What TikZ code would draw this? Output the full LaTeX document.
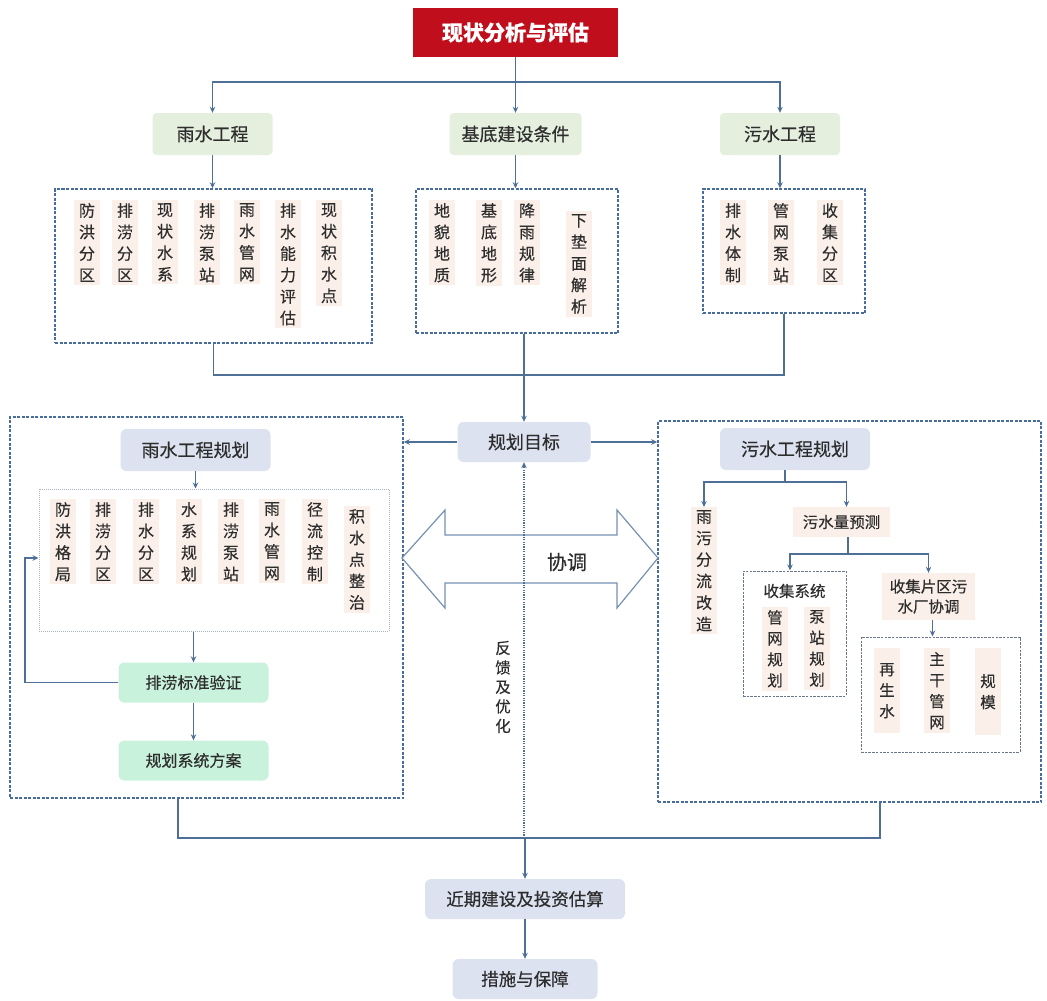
\documentclass[tikz,border=0pt]{standalone}
\usepackage{fontspec}
\setmainfont{Noto Sans CJK SC}[FakeBold=0.4]
\usetikzlibrary{arrows.meta}
\definecolor{topred}{RGB}{192,14,28}
\definecolor{gbox}{RGB}{228,239,222}
\definecolor{peach}{RGB}{251,240,233}
\definecolor{bbox}{RGB}{220,226,240}
\definecolor{mint}{RGB}{200,242,220}
\definecolor{conn}{RGB}{78,112,150}
\definecolor{dashc}{RGB}{72,108,158}
\definecolor{txt}{RGB}{45,45,45}
\definecolor{lightdot}{RGB}{168,180,198}
\definecolor{greydash}{RGB}{105,118,140}
\definecolor{outl}{RGB}{118,145,178}
\begin{document}
\begin{tikzpicture}[x=1pt,y=-1pt,
  ln/.style={draw=conn, line width=1.6pt},
  arr/.style={ln, -{Stealth[length=6pt,width=5.5pt]}},
  box/.style={rounded corners=4pt, text=txt, inner sep=0pt, align=center},
  gbx/.style={box, fill=gbox, font=\fontsize{18}{20}\selectfont},
  bbx/.style={box, fill=bbox, rounded corners=6pt, font=\fontsize{18}{20}\selectfont},
  mbx/.style={box, fill=mint, rounded corners=6pt, font=\fontsize{16}{20}\selectfont},
  pbx/.style={box, rounded corners=0pt, fill=peach, font=\fontsize{15.5}{20}\selectfont},
  vt/.style={fill=peach, text=txt, align=center, anchor=north,
    font=\fontsize{16}{21.5}\selectfont, inner xsep=5pt, inner ysep=3pt},
  vts/.style={vt, font=\fontsize{15.5}{21}\selectfont},
  dbox/.style={draw=dashc, line width=1.5pt, dash pattern=on 3pt off 1.5pt, inner sep=0pt},
  ibox/.style={draw=lightdot, line width=1pt, dash pattern=on 1pt off 1pt, inner sep=0pt},
  gdbox/.style={draw=greydash, line width=1pt, dash pattern=on 2.5pt off 1.2pt, inner sep=0pt}
]
\useasboundingbox (0,0) rectangle (1047,1001);

% ---- current state analysis ----
\node[box, rounded corners=0pt, fill=topred, text=white, minimum width=205pt, minimum height=49pt,
  font=\fontsize{21}{24}\selectfont\bfseries] (top) at (515.5,32.5) {现状分析与评估};

\node[gbx, minimum width=120pt, minimum height=42pt] (rain) at (212.5,134) {雨水工程};
\node[gbx, minimum width=132pt, minimum height=42pt] (base) at (515.5,134) {基底建设条件};
\node[gbx, minimum width=120pt, minimum height=42pt] (sew)  at (780,134)   {污水工程};

\coordinate (j1) at (515.5,82);
\draw[ln] (top.south) -- (j1);
\draw[arr] (j1) -| (rain.north);
\draw[arr] (j1) -- (base.north);
\draw[arr] (j1) -| (sew.north);

\node[dbox, minimum width=317pt, minimum height=154pt] (rainbox) at (213.5,266) {};
\node[dbox, minimum width=202pt, minimum height=144pt] (basebox) at (517,261) {};
\node[dbox, minimum width=162pt, minimum height=124pt] (sewbox)  at (784,251) {};

\draw[arr] (rain.south) -- (rain.south |- rainbox.north);
\draw[arr] (base.south) -- (base.south |- basebox.north);
\draw[arr] (sew.south)  -- (sew.south |- sewbox.north);

% rainwater items
\node[vt] (a1) at (87,200)  {防\\洪\\分\\区};
\node[vt] (a2) at (125,200) {排\\涝\\分\\区};
\node[vt] (a3) at (165,200) {现\\状\\水\\系};
\node[vt] (a4) at (207,200) {排\\涝\\泵\\站};
\node[vt] (a5) at (247,200) {雨\\水\\管\\网};
\node[vt] (a6) at (288,200) {排\\水\\能\\力\\评\\估};
\node[vt] (a7) at (329,200) {现\\状\\积\\水\\点};
% base condition items
\node[vt] (b1) at (442,200) {地\\貌\\地\\质};
\node[vt] (b2) at (489,200) {基\\底\\地\\形};
\node[vt] (b3) at (527,200) {降\\雨\\规\\律};
\node[vt] (b4) at (579,211) {下\\垫\\面\\解\\析};
% sewage items
\node[vt] (c1) at (733,200) {排\\水\\体\\制};
\node[vt] (c2) at (781,200) {管\\网\\泵\\站};
\node[vt] (c3) at (830,200) {收\\集\\分\\区};

% ---- planning goal ----
\node[bbx, minimum width=133pt, minimum height=40pt] (goal) at (524,442) {规划目标};
\draw[ln] (rainbox.south) -- ++(0,31) -| (sewbox.south);
\draw[arr] (goal.north |- basebox.south) -- (goal.north);

\node[dbox, minimum width=393pt, minimum height=381pt] (rplan) at (206.5,607.5) {};
\node[dbox, minimum width=383pt, minimum height=381pt] (splan) at (849.5,611.5) {};
\draw[arr] (goal.west) -- (goal.west -| rplan.east);
\draw[arr] (goal.east) -- (goal.east -| splan.west);

% ---- rainwater planning ----
\node[bbx, minimum width=150pt, minimum height=42pt] (rp) at (195.5,450) {雨水工程规划};
\node[ibox, minimum width=350pt, minimum height=142pt] (rpin) at (214,560) {};
\draw[arr] (rp.south) -- (rp.south |- rpin.north);

\node[vt] (d1) at (63,499)  {防\\洪\\格\\局};
\node[vt] (d2) at (103,499) {排\\涝\\分\\区};
\node[vt] (d3) at (146,499) {排\\水\\分\\区};
\node[vt] (d4) at (189,499) {水\\系\\规\\划};
\node[vt] (d5) at (231,499) {排\\涝\\泵\\站};
\node[vt] (d6) at (272,499) {雨\\水\\管\\网};
\node[vt] (d7) at (315,499) {径\\流\\控\\制};
\node[vt] (d8) at (357,506) {积\\水\\点\\整\\治};

\node[mbx, minimum width=150pt, minimum height=40pt] (pv) at (193.5,682.5) {排涝标准验证};
\node[mbx, minimum width=150pt, minimum height=40pt] (ps) at (193.5,760.5) {规划系统方案};
\draw[arr] (pv.north |- rpin.south) -- (pv.north);
\draw[arr] (pv) -- (ps);
\coordinate (fb) at (25,558);
\draw[arr] (pv.west) -| (fb) -- (fb -| rpin.west);

% ---- coordination arrow ----
\draw[draw=outl, line width=1.2pt, fill=white, line join=miter]
  (402,558) -- (445,510) -- (445,535) -- (617,535) -- (617,510) -- (658,558)
  -- (617,608) -- (617,583) -- (445,583) -- (445,608) -- cycle;
\node[text=txt, font=\fontsize{20}{22}\selectfont] (coord) at (567,562) {协调};

% ---- sewage planning ----
\node[bbx, minimum width=150pt, minimum height=42pt] (sp) at (795,449) {污水工程规划};
\coordinate (j4) at (785,482);
\draw[ln] (j4 |- sp.south) -- (j4);
\node[vt] (sfl) at (704,507) {雨\\污\\分\\流\\改\\造};
\node[pbx, minimum width=97pt, minimum height=30pt] (sq) at (841.5,522) {污水量预测};
\draw[arr] (j4) -| (sfl.north);
\draw[arr] (j4) -| ([xshift=5pt]sq.north);

\coordinate (j5) at (848,554);
\node[gdbox, minimum width=103pt, minimum height=125pt] (cs) at (794.5,633.5) {};
\node[text=txt, font=\fontsize{15.5}{20}\selectfont] (cst) at (794.5,591) {收集系统};
\node[vts] (e1) at (775,607) {管\\网\\规\\划};
\node[vts] (e2) at (817,607) {泵\\站\\规\\划};
\node[pbx, minimum width=93pt, minimum height=47pt] (cx) at (928.5,596.5) {收集片区污\\水厂协调};
\draw[ln] (sq.south -| j5) -- (j5);
\draw[arr] (j5) -| ([xshift=-4.5pt]cs.north);
\draw[arr] (j5) -| (cx.north);

\node[gdbox, minimum width=159pt, minimum height=115pt] (rbox) at (940.5,694.5) {};
\draw[arr] ([xshift=4pt]cx.south) -- ([xshift=4pt]cx.south |- rbox.north);
\node[vts, minimum height=85pt] (f1) at (887,648) {再\\生\\水};
\node[vts, minimum height=85pt] (f2) at (937,648) {主\\干\\管\\网};
\node[vts, minimum height=87pt] (f3) at (988,648) {规\\模};

% ---- near-term construction ----
\coordinate (bl) at (178,838);
\coordinate (br) at (880,838);
\node[bbx, minimum width=200pt, minimum height=40pt, font=\fontsize{17.5}{20}\selectfont] (near) at (525,899) {近期建设及投资估算};
\node[bbx, minimum width=145pt, minimum height=40pt, font=\fontsize{17.5}{20}\selectfont] (meas) at (525,979) {措施与保障};
\draw[ln] (bl |- rplan.south) -- (bl) -- (br) -- (br |- splan.south);
\draw[arr] (bl -| near.north) -- (near.north);
\draw[arr] (near) -- (meas);

% feedback line back to the goal
\draw[draw=conn, line width=1.2pt, dash pattern=on 1.2pt off 1.2pt, -{Stealth[length=6pt,width=5.5pt]}]
  (bl -| goal.south) -- (goal.south);
\node[text=txt, align=center, font=\fontsize{15.5}{19.5}\selectfont] (fbl) at (503,687) {反\\馈\\及\\优\\化};
\end{tikzpicture}
\end{document}
